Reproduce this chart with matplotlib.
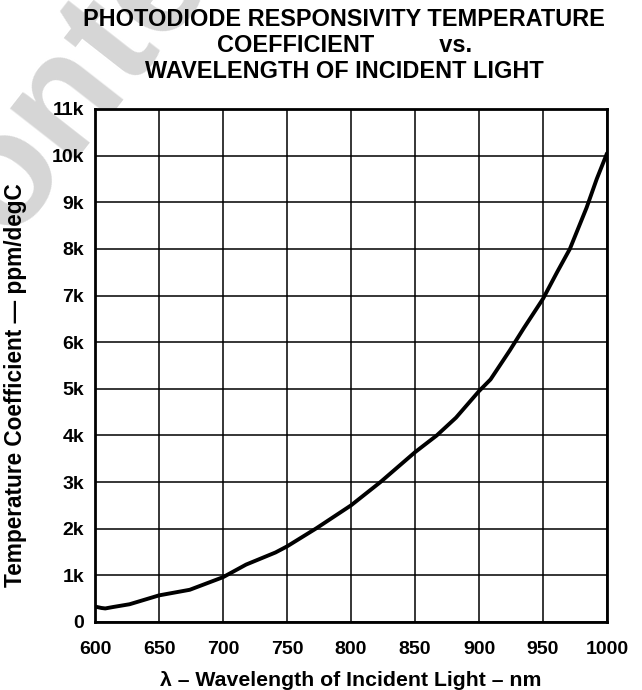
import numpy as np
import matplotlib
matplotlib.use("Agg")
import matplotlib.pyplot as plt

plt.rcParams['font.family'] = ['Liberation Sans', 'DejaVu Sans']
plt.rcParams['font.weight'] = 'bold'

# wavelength (nm) and temperature coefficient (k ppm/degC)
wavelength = [600, 605, 608, 614, 627, 650, 674, 700, 718, 741, 750, 773, 800,
              823, 850, 867, 882, 900, 909, 924, 935, 950, 961, 971, 984, 992, 1000]
coef_k = [0.33, 0.30, 0.29, 0.32, 0.38, 0.57, 0.69, 0.96, 1.23, 1.49, 1.62, 2.01, 2.50,
          3.00, 3.64, 4.00, 4.38, 4.95, 5.20, 5.82, 6.30, 6.93, 7.50, 8.00, 8.88, 9.50, 10.05]

xticks = [600, 650, 700, 750, 800, 850, 900, 950, 1000]
yticks = list(range(0, 12))
ylabels = ['0'] + [f'{v}k' for v in yticks[1:]]

fig = plt.figure(figsize=(6.42, 6.9), dpi=100)
ax = fig.add_axes([0.148, 0.0986, 0.7975, 0.7435])
ax.set_zorder(1)
ax.patch.set_facecolor('white')

# faint watermark behind everything
fig.text(0.012, 0.652, 'onte', fontsize=115, color='#d6d6d6', rotation=52,
         rotation_mode='anchor', ha='left', va='baseline', zorder=0,
         fontweight='bold')

ax.plot(np.array(wavelength), np.array(coef_k) * 1000, color='black', lw=2.8,
        solid_capstyle='round', zorder=3)

ax.set_xlim(600, 1000)
ax.set_ylim(0, 11000)
ax.set_xticks(xticks)
ax.set_yticks([v * 1000 for v in yticks])
ax.set_yticklabels(ylabels)
ax.grid(True, color='black', lw=1.1)
ax.tick_params(length=0, labelsize=14)
ax.tick_params(axis='x', pad=14)
ax.tick_params(axis='y', pad=8)
for lab in ax.get_xticklabels() + ax.get_yticklabels():
    lab.set_fontweight('bold')
for s in ax.spines.values():
    s.set_linewidth(2)

ax.set_xlabel('λ – Wavelength of Incident Light – nm', fontsize=15.3,
              fontweight='bold', labelpad=9)
ax.set_ylabel('Temperature Coefficient — ppm/degC', fontsize=16.3,
              fontweight='bold')
ax.yaxis.set_label_coords(-0.133, 0.462)

fig.text(0.536, 0.988, 'PHOTODIODE RESPONSIVITY TEMPERATURE\nCOEFFICIENT          vs.\nWAVELENGTH OF INCIDENT LIGHT',
         ha='center', va='top', fontsize=16.9, fontweight='bold', linespacing=1.17)

fig.savefig('out.png', dpi=100, facecolor='white')
